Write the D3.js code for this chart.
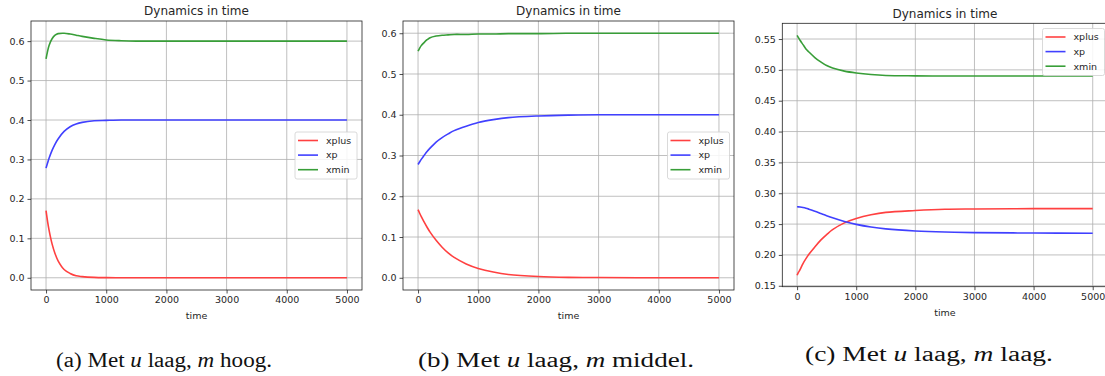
<!DOCTYPE html>
<html>
<head>
<meta charset="utf-8">
<script src="https://cdn.jsdelivr.net/npm/d3@7"></script>
<style>
  html, body { margin: 0; padding: 0; background: #fff; }
  svg { display: block; }
  text { font-family: "DejaVu Sans", sans-serif; fill: #262626; }
  .cap { font-family: "Liberation Serif", "DejaVu Serif", serif; fill: #111; }
</style>
</head>
<body>
<svg id="chart" width="1105" height="376"></svg>
<script>
// ---- shared data ----
const times = [0,25,50,100,150,200,300,400,500,600,800,1000,1250,1500,2000,2500,3000,4000,5000];
const seriesNames = ["xplus", "xp", "xmin"];
const xTicks = [0,1000,2000,3000,4000,5000];

// panel (a): m hoog
const xplusA = [0.170,0.143,0.121,0.086,0.061,0.043,0.021,0.011,0.005,0.003,0.001,0.0003,0,0,0,0,0,0,0];
const xpA    = [0.278,0.291,0.303,0.323,0.339,0.352,0.371,0.383,0.390,0.394,0.398,0.399,0.400,0.400,0.400,0.400,0.400,0.400,0.400];
const xminA  = [0.555,0.574,0.589,0.606,0.615,0.619,0.620,0.618,0.615,0.612,0.607,0.603,0.601,0.600,0.600,0.600,0.600,0.600,0.600];
const yTicksA = [0.0,0.1,0.2,0.3,0.4,0.5,0.6];

// panel (b): m middel
const xplusB = [0.167,0.159,0.151,0.137,0.124,0.112,0.092,0.075,0.061,0.050,0.034,0.023,0.014,0.008,0.003,0.001,0.0005,0,0];
const xpB    = [0.278,0.284,0.290,0.300,0.310,0.318,0.333,0.344,0.353,0.361,0.372,0.381,0.388,0.393,0.397,0.399,0.400,0.400,0.400];
const xminB  = [0.556,0.563,0.569,0.577,0.584,0.589,0.593,0.595,0.596,0.597,0.597,0.598,0.598,0.599,0.599,0.600,0.600,0.600,0.600];
const yTicksB = [0.0,0.1,0.2,0.3,0.4,0.5,0.6];

// panel (c): m laag
const xplusC = [0.167,0.172,0.176,0.186,0.194,0.201,0.213,0.224,0.233,0.241,0.252,0.259,0.265,0.269,0.272,0.274,0.2745,0.275,0.275];
const xpC    = [0.278,0.2779,0.2776,0.2768,0.2757,0.2742,0.2708,0.2672,0.2636,0.2602,0.2542,0.2495,0.2452,0.2422,0.2389,0.2371,0.2362,0.2355,0.2352];
const xminC  = [0.556,0.552,0.548,0.541,0.534,0.529,0.520,0.513,0.507,0.503,0.498,0.495,0.4925,0.491,0.4903,0.490,0.490,0.490,0.490];
const yTicksC = [0.15,0.20,0.25,0.30,0.35,0.40,0.45,0.50,0.55];

const titleText = "Dynamics in time";
const xLabel = "time";
const captions = ["(a) Met |u| laag, |m| hoog.", "(b) Met |u| laag, |m| middel.", "(c) Met |u| laag, |m| laag."];

// ---- styles ----
const colors = { xplus: "rgb(255,64,64)", xp: "rgb(64,64,255)", xmin: "rgb(56,158,56)" };

const svg = d3.select("#chart");
svg.append("rect").attr("width", 1105).attr("height", 376).attr("fill", "#fff");

function drawPanel(cfg) {
  const g = svg.append("g");
  const x = d3.scaleLinear().domain([-250, 5250]).range([cfg.left, cfg.right]);
  const y = d3.scaleLinear().domain(cfg.yDomain).range([cfg.bottom, cfg.top]);

  // grid
  g.append("g").selectAll("line").data(xTicks).join("line")
    .attr("x1", d => x(d)).attr("x2", d => x(d))
    .attr("y1", cfg.top).attr("y2", cfg.bottom)
    .attr("stroke", "#b0b0b0").attr("stroke-width", 0.8);
  g.append("g").selectAll("line").data(cfg.yTicks).join("line")
    .attr("x1", cfg.left).attr("x2", cfg.right)
    .attr("y1", d => y(d)).attr("y2", d => y(d))
    .attr("stroke", "#b0b0b0").attr("stroke-width", 0.8);

  // lines
  const line = d3.line().x(d => x(d[0])).y(d => y(d[1])).curve(d3.curveCatmullRom.alpha(0.5));
  cfg.series.forEach((vals, i) => {
    const name = seriesNames[i];
    g.append("path")
      .datum(times.map((t, k) => [t, vals[k]]))
      .attr("d", line)
      .attr("fill", "none")
      .attr("stroke", colors[name])
      .attr("stroke-width", 1.6);
  });

  // axes
  const xAxis = d3.axisBottom(x).tickValues(xTicks).tickFormat(d3.format("d")).tickSize(3.5).tickPadding(3);
  const yAxis = d3.axisLeft(y).tickValues(cfg.yTicks).tickFormat(d3.format(cfg.yFmt)).tickSize(3.5).tickPadding(3);
  const gx = g.append("g").attr("transform", `translate(0,${cfg.bottom})`).call(xAxis);
  const gy = g.append("g").attr("transform", `translate(${cfg.left},0)`).call(yAxis);
  [gx, gy].forEach(a => {
    a.select(".domain").remove();
    a.selectAll(".tick line").attr("stroke", "#222").attr("stroke-width", 0.8);
    a.selectAll(".tick text").attr("font-size", "9.5px").attr("font-family", "DejaVu Sans").attr("fill", "#262626");
  });

  // frame
  g.append("rect")
    .attr("x", cfg.left).attr("y", cfg.top)
    .attr("width", cfg.right - cfg.left).attr("height", cfg.bottom - cfg.top)
    .attr("fill", "none").attr("stroke", "#222").attr("stroke-width", 0.8);

  // title + x label
  const cx = (cfg.left + cfg.right) / 2;
  g.append("text").attr("x", cx).attr("y", cfg.titleY).attr("text-anchor", "middle")
    .attr("font-size", "12px").text(titleText);
  g.append("text").attr("x", cx).attr("y", cfg.xLabelY).attr("text-anchor", "middle")
    .attr("font-size", "9.5px").text(xLabel);

  // legend
  const L = cfg.legend;
  g.append("rect").attr("x", L.x).attr("y", L.y).attr("width", L.w).attr("height", L.h)
    .attr("rx", 2).attr("fill", "#fff").attr("fill-opacity", 0.85)
    .attr("stroke", "#d0d0d0").attr("stroke-width", 0.8);
  seriesNames.forEach((name, i) => {
    const yy = L.y + 8.5 + i * 14.6;
    g.append("line").attr("x1", L.x + 3).attr("x2", L.x + 23).attr("y1", yy).attr("y2", yy)
      .attr("stroke", colors[name]).attr("stroke-width", 1.6);
    g.append("text").attr("x", L.x + 31).attr("y", yy + 3.3).attr("font-size", "9.5px").text(name);
  });

  // caption
  const cap = g.append("text").attr("class", "cap")
    .attr("x", cfg.capX).attr("y", cfg.capY).attr("font-size", "20.5px")
    .attr("textLength", cfg.capW).attr("lengthAdjust", "spacingAndGlyphs");
  cfg.caption.split("|").forEach((part, i) => {
    const ts = cap.append("tspan").text(part);
    if (i % 2 === 1) ts.attr("font-style", "italic");
  });
}

drawPanel({
  left: 31, right: 362, top: 21, bottom: 290,
  yDomain: [-0.031, 0.651], yTicks: yTicksA, yFmt: ".1f",
  series: [xplusA, xpA, xminA],
  titleY: 15, xLabelY: 319,
  legend: { x: 295, y: 132, w: 62, h: 47 },
  caption: captions[0], capX: 56, capY: 367, capW: 216
});

drawPanel({
  left: 403, right: 734, top: 21, bottom: 290,
  yDomain: [-0.03, 0.63], yTicks: yTicksB, yFmt: ".1f",
  series: [xplusB, xpB, xminB],
  titleY: 15, xLabelY: 319,
  legend: { x: 667.5, y: 132, w: 62, h: 47 },
  caption: captions[1], capX: 418, capY: 367, capW: 276
});

drawPanel({
  left: 782.3, right: 1107.5, top: 23.3, bottom: 286.7,
  yDomain: [0.1485, 0.5755], yTicks: yTicksC, yFmt: ".2f",
  series: [xplusC, xpC, xminC],
  titleY: 17.5, xLabelY: 316,
  legend: { x: 1042.5, y: 28.5, w: 62, h: 47 },
  caption: captions[2], capX: 805, capY: 361, capW: 248
});
</script>
</body>
</html>
